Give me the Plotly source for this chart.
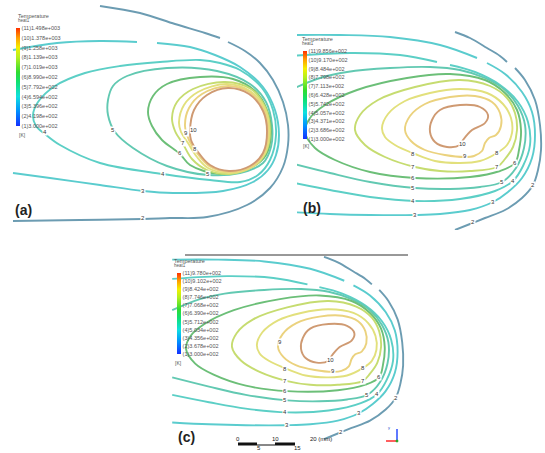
import plotly.graph_objects as go

W, H = 545, 453

# ---------------- panel (a): isotherm polylines (image-plane units) ----------------
A2_X = [100, 140, 175, 205, 220, None, 228, 245, 260, 273, 283, 288, 288, 283, 270, 247, 207, 170, 143, 80, 13]
A2_Y = [6, 13, 24, 33, 38, None, 42, 51, 63, 80, 102, 125, 145, 167, 188, 205, 217, 218, 219, 220, 221]
A3_X = [13, 57, 100, 137, None, 157, 190, 215, 240, 263, 275, 279, 276, 268, 253, 223, 173, 143, 100, 50, 13]
A3_Y = [50, 43, 41, 42, None, 43, 47, 55, 67, 87, 110, 135, 155, 170, 182, 191, 193, 191, 185, 178, 173]
A4_X = [200, 160, 120, 85, 55, 38, 33, 36, 45, 60, 100, 163, 210, 240, 258, 270, 276, 273, 262, 240, 220, 200]
A4_Y = [60, 62, 66, 73, 86, 102, 115, 126, 134, 145, 163, 174, 180, 182, 175, 160, 135, 110, 88, 70, 63, 60]
A5_X = [108, 113, 127, 167, 217, 250, 266, 272, 271, 263, 240, 208, 167, 133, 115, 108, 108]
A5_Y = [100, 86, 76, 68, 71, 84, 102, 125, 147, 163, 173, 175, 166, 148, 132, 115, 100]
A6_X = [148, 153, 167, 200, 233, 255, 267, 271, 266, 252, 220, 190, 180, 162, 152, 148]
A6_Y = [112, 96, 84, 77, 79, 91, 110, 133, 155, 167, 174, 165, 154, 140, 126, 112]
A7_X = [172, 177, 193, 225, 251, 265, 270, 266, 254, 230, 207, 192, 183, 175, 172]
A7_Y = [118, 102, 89, 82, 89, 107, 130, 152, 166, 174, 170, 159, 144, 131, 118]
A8_X = [179, 184, 198, 227, 250, 265, 269, 265, 252, 229, 208, 197, 188, 181, 179]
A8_Y = [122, 105, 92, 84, 91, 109, 130, 153, 167, 173, 168, 157, 143, 132, 122]
A9_X = [185, 189, 202, 228, 249, 264, 268, 264, 251, 229, 209, 197, 189, 185]
A9_Y = [126, 108, 94, 86, 92, 110, 131, 153, 167, 172, 166, 153, 140, 126]
A10_X = [190, 194, 207, 228, 249, 263, 267, 263, 250, 229, 210, 198, 191, 190]
A10_Y = [131, 110, 95, 88, 94, 111, 131, 153, 166, 171, 165, 152, 140, 131]

A_LAB_X = [143, 143, 45, 163, 113, 208, 180, 183, 195, 186, 193]
A_LAB_Y = [218, 191, 132, 174, 130, 174, 153, 143, 149, 133, 130]
A_LAB_T = ['2', '3', '4', '4', '5', '5', '6', '7', '8', '9', '10']

# ---------------- panels (b) and (c): isotherm polylines ----------------
B2_X = [455, 470, 487, 500, 507, None, 515, 525, 535, 540, 541, 538, 533, 522, 505, 485, 470, 455]
B2_Y = [32, 38, 48, 56, 62, None, 68, 80, 100, 125, 150, 170, 185, 198, 210, 218, 224, 230]
B3_X = [290, 340, 390, 440, 477, None, 487, 505, 522, 532, 535, 532, 522, 508, 493, 470, 440, 415, 370, 330, 290]
B3_Y = [35, 35, 37, 45, 58, None, 63, 74, 92, 112, 135, 158, 178, 192, 202, 210, 214, 215, 215, 214, 212]
B4_X = [290, 350, 400, 437, None, 450, 475, 500, 518, 528, 530, 523, 513, 495, 460, 415, 370, 330, 290]
B4_Y = [56, 53, 55, 62, None, 65, 72, 85, 102, 122, 145, 166, 181, 191, 199, 201, 197, 190, 182]
B5_X = [290, 320, 347, 390, 430, 460, 485, 505, 518, 525, 524, 516, 502, 480, 450, 415, 370, 330, 290]
B5_Y = [90, 78, 72, 68, 67, 70, 78, 90, 106, 125, 148, 168, 182, 187, 189, 188, 182, 173, 163]
B6_X = [305, 310, 325, 357, 407, 450, 485, 505, 517, 521, 519, 515, 500, 470, 415, 370, 335, 315, 305]
B6_Y = [132, 118, 105, 90, 78, 74, 80, 93, 110, 130, 150, 163, 171, 177, 178, 172, 160, 148, 132]
B7_X = [355, 360, 378, 415, 460, 490, 507, 515, 517, 513, 505, 497, 470, 440, 415, 385, 365, 355]
B7_Y = [130, 115, 100, 87, 80, 86, 98, 113, 130, 147, 159, 167, 171, 171, 167, 157, 145, 130]
B8_X = [382, 388, 405, 430, 460, 487, 503, 511, 512, 507, 497, 480, 460, 435, 415, 395, 385, 382]
B8_Y = [128, 114, 101, 93, 89, 93, 104, 118, 133, 145, 153, 161, 163, 161, 154, 145, 137, 128]
B9_X = [405, 410, 425, 450, 475, 492, 500, 501, 496, 489, 485, 482, 474, 465, 445, 425, 411, 405]
B9_Y = [130, 116, 104, 97, 96, 102, 113, 126, 135, 138, 143, 151, 156, 157, 155, 150, 141, 130]
B10_X = [430, 432, 440, 460, 480, 488, 485, 472, 463, 460, 447, 435, 430]
B10_Y = [132, 120, 110, 105, 107, 115, 123, 130, 140, 145, 147, 142, 132]

B_LAB_X = [413, 413, 413, 413, 413, 415, 462, 465, 497, 497, 515, 502, 513, 533, 493, 473]
B_LAB_Y = [154, 167, 178, 188, 201, 215, 144, 156, 153, 167, 163, 182, 181, 185, 202, 222]
B_LAB_T = ['8', '7', '6', '5', '4', '3', '10', '9', '8', '7', '6', '5', '4', '2', '3', '2']
C_LAB_X = B_LAB_X + [407]
C_LAB_Y = B_LAB_Y + [125]
C_LAB_T = B_LAB_T + ['9']

# ---------------- legend values ----------------
LEVELS = [1, 2, 3, 4, 5, 6, 7, 8, 9, 10, 11]
A_LEG = ['3.000e+002', '4.198e+002', '5.396e+002', '6.594e+002', '7.792e+002', '8.990e+002',
         '1.019e+003', '1.139e+003', '1.258e+003', '1.378e+003', '1.498e+003']
B_LEG = ['3.000e+002', '3.686e+002', '4.371e+002', '5.057e+002', '5.742e+002', '6.428e+002',
         '7.113e+002', '7.798e+002', '8.484e+002', '9.170e+002', '9.856e+002']
C_LEG = ['3.000e+002', '3.678e+002', '4.356e+002', '5.034e+002', '5.712e+002', '6.390e+002',
         '7.068e+002', '7.746e+002', '8.424e+002', '9.102e+002', '9.780e+002']

LEVEL_COLORS = {2: '#6c9cb2', 3: '#5accce', 4: '#5ccfc6', 5: '#62c9b2', 6: '#6cbf78',
                7: '#c6dc70', 8: '#e2e07c', 9: '#ebd27e', 10: '#cf9a72'}

A_LINES = [(2, A2_X, A2_Y), (3, A3_X, A3_Y), (4, A4_X, A4_Y), (5, A5_X, A5_Y), (6, A6_X, A6_Y),
           (7, A7_X, A7_Y), (8, A8_X, A8_Y), (9, A9_X, A9_Y), (10, A10_X, A10_Y)]
B_LINES = [(2, B2_X, B2_Y), (3, B3_X, B3_Y), (4, B4_X, B4_Y), (5, B5_X, B5_Y), (6, B6_X, B6_Y),
           (7, B7_X, B7_Y), (8, B8_X, B8_Y), (9, B9_X, B9_Y), (10, B10_X, B10_Y)]

SCALE = [[0.0, '#1430ff'], [0.15, '#0090ff'], [0.3, '#10e0e0'], [0.45, '#10e070'],
         [0.55, '#30dc30'], [0.7, '#b4f020'], [0.8, '#f4f000'], [0.9, '#ffa000'], [1.0, '#ff3000']]


def px(x):
    return x / W


def py(y):
    return 1 - y / H


fig = go.Figure()

for axis_id, lines in (('', A_LINES), ('2', B_LINES), ('3', B_LINES)):
    for lvl, xs, ys in lines:
        fig.add_trace(go.Scatter(
            x=xs, y=ys, mode='lines', xaxis='x' + axis_id, yaxis='y' + axis_id,
            line=dict(color=LEVEL_COLORS[lvl], width=1.9, shape='spline', smoothing=1.0),
            showlegend=False, hoverinfo='skip'))

annotations = []
for axis_id, lx, ly, lt in (('', A_LAB_X, A_LAB_Y, A_LAB_T), ('2', B_LAB_X, B_LAB_Y, B_LAB_T),
                            ('3', C_LAB_X, C_LAB_Y, C_LAB_T)):
    for x, y, t in zip(lx, ly, lt):
        annotations.append(dict(x=x, y=y, xref='x' + axis_id, yref='y' + axis_id, text=t,
                                showarrow=False, bgcolor='white', borderpad=0,
                                font=dict(size=6, color='#333333', family='Liberation Sans')))

# colour legends (one per panel)
legends = [
    ('coloraxis', A_LEG, 16, 28, 98, 16, 135, 'x', 'y'),
    ('coloraxis2', B_LEG, 303, 51, 88, 300, 146, 'x2', 'y2'),
    ('coloraxis3', C_LEG, 177, 273, 81, 172, 363, 'x3', 'y3'),
]
layout_caxes = {}
for name, leg, bx, by, blen, tx, ky, xa, ya in legends:
    fig.add_trace(go.Scatter(x=[None], y=[None], mode='markers', xaxis=xa, yaxis=ya,
                             marker=dict(color=[1], coloraxis=name), showlegend=False,
                             hoverinfo='skip'))
    layout_caxes[name] = dict(
        cmin=1, cmax=11, colorscale=SCALE,
        colorbar=dict(x=px(bx), xanchor='left', y=py(by), yanchor='top',
                      len=blen, lenmode='pixels', thickness=4, thicknessmode='pixels',
                      outlinewidth=0, xpad=0, ypad=0, ticks='', ticklabelposition='outside',
                      tickvals=LEVELS, ticktext=['(%d)%s' % (l, v) for l, v in zip(LEVELS, leg)],
                      tickfont=dict(size=5.5, color='#555555', family='Liberation Sans')))
    annotations.append(dict(x=px(tx), y=py(by - 12), xref='paper', yref='paper', xanchor='left',
                            yanchor='middle', text='Temperature', showarrow=False,
                            font=dict(size=5.5, color='#555555', family='Liberation Sans')))
    annotations.append(dict(x=px(tx), y=py(by - 8), xref='paper', yref='paper', xanchor='left',
                            yanchor='middle', text='heat1', showarrow=False,
                            font=dict(size=4.5, color='#555555', family='Liberation Sans')))
    annotations.append(dict(x=px(tx + 1), y=py(ky), xref='paper', yref='paper', xanchor='left',
                            yanchor='middle', text='[K]', showarrow=False,
                            font=dict(size=5, color='#555555', family='Liberation Sans')))

# panel letters
for t, x, y in (('(a)', 13, 210), ('(b)', 301, 208), ('(c)', 176, 437)):
    annotations.append(dict(x=px(x), y=py(y), xref='paper', yref='paper', xanchor='left',
                            yanchor='middle', text='<b>%s</b>' % t, showarrow=False,
                            font=dict(size=14, color='#222222', family='Liberation Sans')))

# scale bar texts for panel (c)
for t, x, y in (('0', 238, 439), ('10', 275, 439), ('20 (mm)', 321, 439), ('5', 259, 448), ('15', 297, 448)):
    annotations.append(dict(x=px(x), y=py(y), xref='paper', yref='paper', xanchor='center',
                            yanchor='middle', text=t, showarrow=False,
                            font=dict(size=6, color='#222222', family='Liberation Sans')))
annotations.append(dict(x=px(392), y=py(432), xref='paper', yref='paper', text='y', showarrow=False,
                        font=dict(size=4, color='#3355cc', family='Liberation Sans')))

shapes = [
    dict(type='line', xref='paper', yref='paper', x0=px(185), x1=px(408), y0=py(255), y1=py(255),
         line=dict(color='#333333', width=1)),
    dict(type='line', xref='paper', yref='paper', x0=px(238), x1=px(257), y0=py(444), y1=py(444),
         line=dict(color='#111111', width=3)),
    dict(type='line', xref='paper', yref='paper', x0=px(257), x1=px(275), y0=py(445), y1=py(445),
         line=dict(color='#111111', width=1)),
    dict(type='line', xref='paper', yref='paper', x0=px(275), x1=px(295), y0=py(444), y1=py(444),
         line=dict(color='#111111', width=3)),
    dict(type='line', xref='paper', yref='paper', x0=px(397), x1=px(397), y0=py(441), y1=py(429),
         line=dict(color='#2a4cff', width=1.5)),
    dict(type='line', xref='paper', yref='paper', x0=px(386), x1=px(397), y0=py(441), y1=py(441),
         line=dict(color='#ff2a2a', width=1.5)),
    dict(type='circle', xref='paper', yref='paper', x0=px(396), x1=px(398), y0=py(442), y1=py(440),
         line=dict(color='#22aa22', width=1), fillcolor='#22aa22'),
]

ax_common = dict(visible=False, showgrid=False, zeroline=False, fixedrange=True)
fig.update_layout(
    width=W, height=H, margin=dict(l=0, r=0, t=0, b=0),
    paper_bgcolor='white', plot_bgcolor='rgba(0,0,0,0)',
    xaxis=dict(domain=[px(12), px(296)], range=[12, 296], **ax_common),
    yaxis=dict(domain=[py(225), py(0)], range=[225, 0], **ax_common),
    xaxis2=dict(domain=[px(297), px(545)], range=[297, 545], **ax_common),
    yaxis2=dict(domain=[py(230), py(22)], range=[230, 22], **ax_common),
    xaxis3=dict(domain=[px(170), px(415)], range=[287.6, 553.9], **ax_common),
    yaxis3=dict(domain=[py(445), py(256)], range=[236.5, 31.1], **ax_common),
    annotations=annotations, shapes=shapes, showlegend=False, hovermode=False,
    **layout_caxes,
)

fig.write_html("out.html", config={'displayModeBar': False, 'staticPlot': True},
               post_script="document.body.style.margin='0';")
